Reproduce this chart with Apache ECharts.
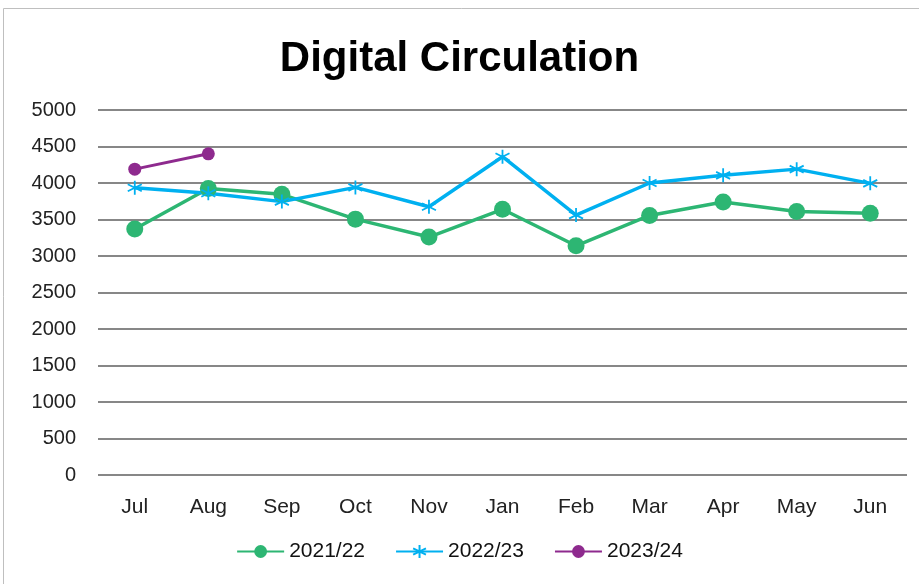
<!DOCTYPE html>
<html><head><meta charset="utf-8">
<script src="https://cdn.jsdelivr.net/npm/echarts@6/dist/echarts.min.js"></script>
<style>html,body{margin:0;padding:0;background:#fff}#c{width:919px;height:584px}</style>
</head><body><div id="c"></div>
<script>
const categories = ['Jul','Aug','Sep','Oct','Nov','Jan','Feb','Mar','Apr','May','Jun'];
const s2122 = [3370,3925,3845,3505,3260,3640,3140,3555,3740,3610,3585];
const s2223 = [3935,3860,3745,3940,3675,4360,3560,4000,4105,4190,3995];
const s2324 = [4190,4400,null,null,null,null,null,null,null,null,null];
const yTicks = {min:0,max:5000,interval:500};

const FONT = '"Liberation Sans", "DejaVu Sans", sans-serif';
const star = 'path://M5 0L5 10M0.7 2.5L9.3 7.5M0.7 7.5L9.3 2.5';
const chart = echarts.init(document.getElementById('c'));
chart.setOption({
  animation:false,
  backgroundColor:'#fff',
  graphic:[{type:'rect',shape:{x:3.5,y:8.5,width:930,height:600},style:{fill:'none',stroke:'#bfbfbf',lineWidth:1},silent:true}],
  title:{text:'Digital Circulation',left:'center',top:33,textStyle:{fontFamily:FONT,fontSize:42,fontWeight:'bold',color:'#000'}},
  grid:{left:98,right:12,top:110,bottom:109,containLabel:false},
  legend:{bottom:17,left:'center',itemWidth:47,itemHeight:16,itemGap:30,
    textStyle:{fontFamily:FONT,fontSize:21,color:'#111'},
    data:['2021/22','2022/23','2023/24']},
  xAxis:{type:'category',data:categories,boundaryGap:true,
    axisLine:{show:false},axisTick:{show:false},
    axisLabel:{fontFamily:FONT,fontSize:21,color:'#222',margin:22}},
  yAxis:{type:'value',min:yTicks.min,max:yTicks.max,interval:yTicks.interval,
    axisLine:{show:false},axisTick:{show:false},
    axisLabel:{fontFamily:FONT,fontSize:20,color:'#222',margin:22,formatter:v=>String(v)},
    splitLine:{lineStyle:{color:'#878787',width:2}}},
  series:[
    {name:'2021/22',type:'line',data:s2122,symbol:'circle',symbolSize:17,
     lineStyle:{color:'#2db673',width:3.5},itemStyle:{color:'#2db673'}},
    {name:'2022/23',type:'line',data:s2223,symbol:star,symbolSize:14,
     lineStyle:{color:'#00b0f0',width:3.5},itemStyle:{color:'transparent',borderColor:'#00b0f0',borderWidth:1.8}},
    {name:'2023/24',type:'line',data:s2324,symbol:'circle',symbolSize:13,
     lineStyle:{color:'#8e2a8e',width:3},itemStyle:{color:'#8e2a8e'}}
  ]
});
</script></body></html>
